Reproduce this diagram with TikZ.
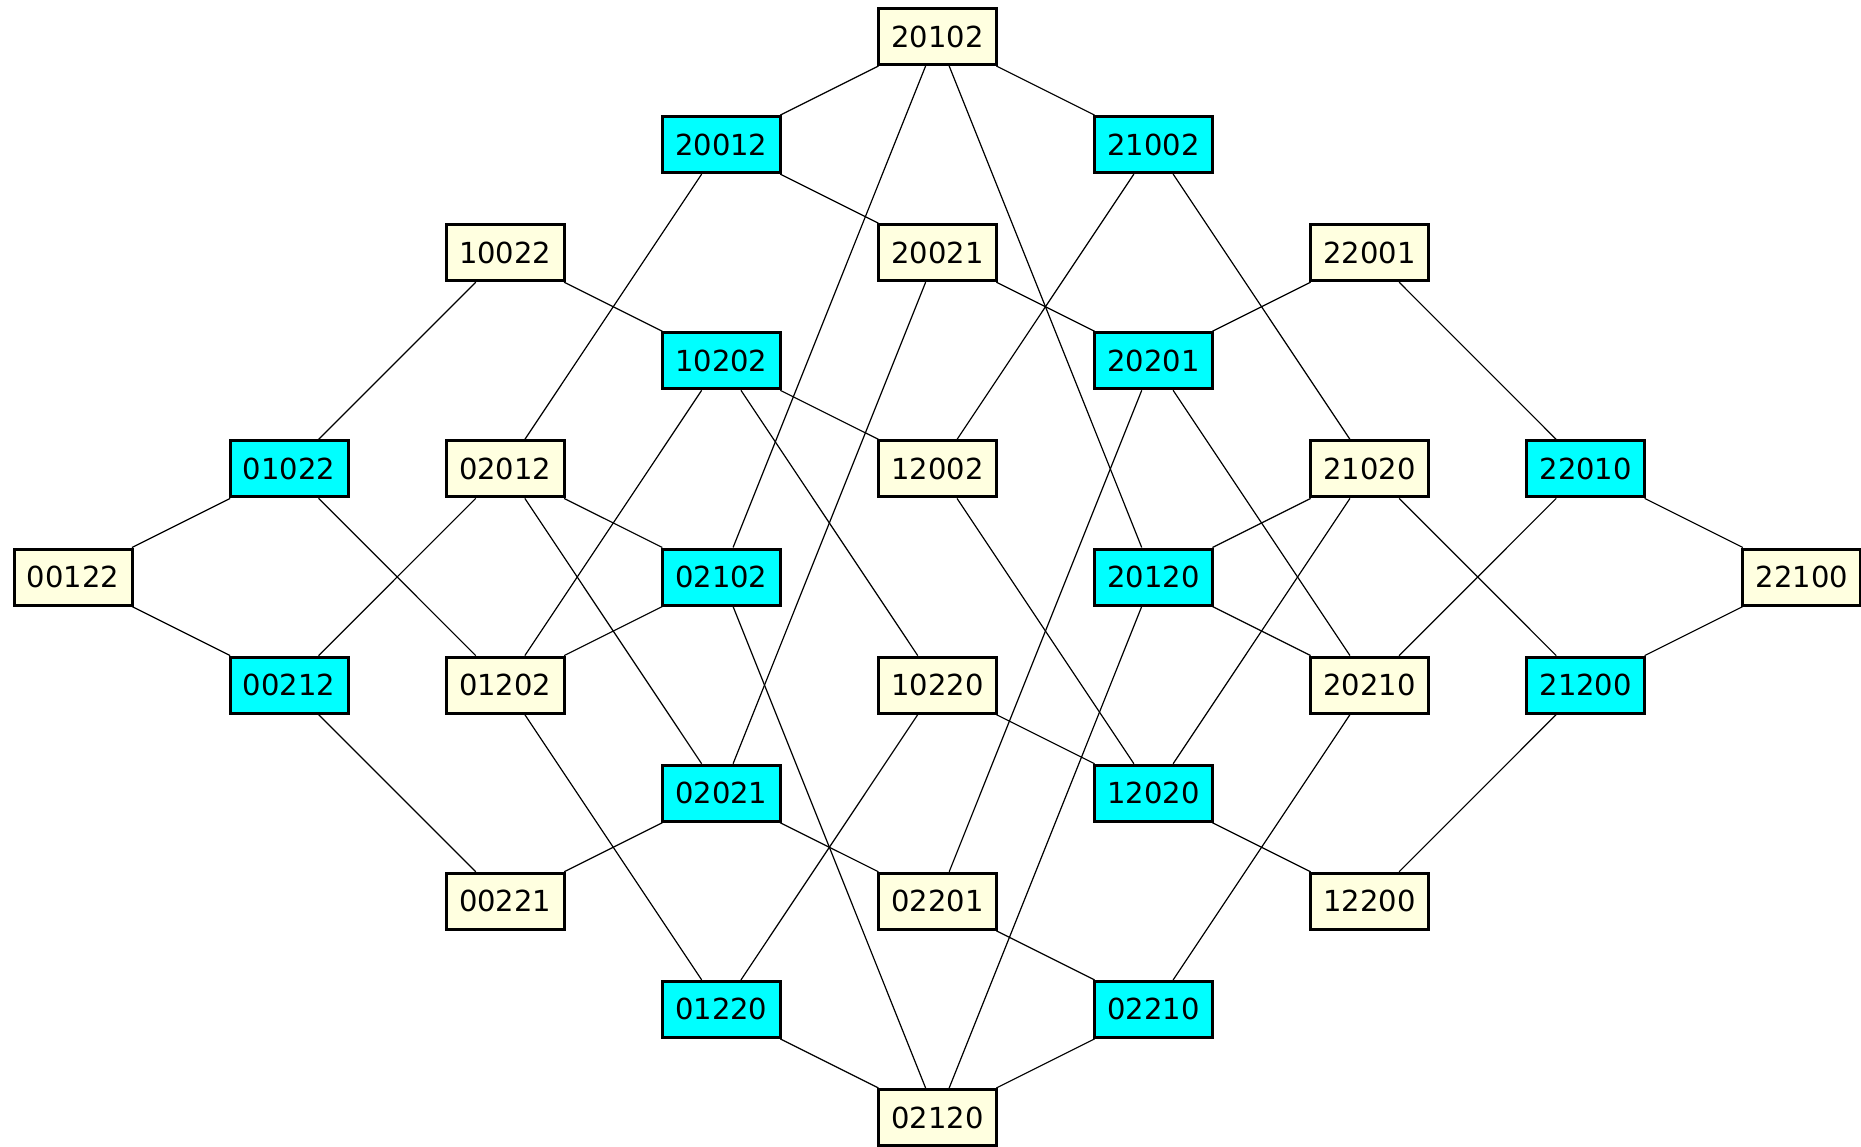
\documentclass[tikz,border=0pt]{standalone}
\usepackage{fontspec}
\setmainfont{DejaVu Sans}
\definecolor{paleyellow}{HTML}{FFFFE0}
\definecolor{aqua}{HTML}{00FFFF}
\begin{document}
\begin{tikzpicture}[x=1pt,y=1pt,
  statebox/.style={draw=black, line width=3pt, minimum width=118pt, minimum height=56pt,
    inner sep=0pt, font=\fontsize{29}{31}\selectfont},
  ybox/.style={statebox, fill=paleyellow},
  cbox/.style={statebox, fill=aqua},
  link/.style={draw=black, line width=1.2pt}]
\useasboundingbox (0,0) rectangle (1861,-1147);
% grid: column c at x = 73 + 216.1 c, row r at y = -(36.5 + 108.1 r)
\foreach \lab/\c/\r/\s in {
  20102/4/0/ybox, 20012/3/1/cbox, 21002/5/1/cbox,
  10022/2/2/ybox, 20021/4/2/ybox, 22001/6/2/ybox,
  10202/3/3/cbox, 20201/5/3/cbox,
  01022/1/4/cbox, 02012/2/4/ybox, 12002/4/4/ybox, 21020/6/4/ybox, 22010/7/4/cbox,
  00122/0/5/ybox, 02102/3/5/cbox, 20120/5/5/cbox, 22100/8/5/ybox,
  00212/1/6/cbox, 01202/2/6/ybox, 10220/4/6/ybox, 20210/6/6/ybox, 21200/7/6/cbox,
  02021/3/7/cbox, 12020/5/7/cbox,
  00221/2/8/ybox, 02201/4/8/ybox, 12200/6/8/ybox,
  01220/3/9/cbox, 02210/5/9/cbox,
  02120/4/10/ybox}
  \node[\s] (n\lab) at ({73+216.1*\c},{-(36.5+108.1*\r)}) {\lab};
\foreach \a/\b in {
  20102/20012, 20102/21002, 20102/02102, 20102/20120,
  20012/20021, 20012/02012,
  21002/12002, 21002/21020,
  10022/10202, 10022/01022,
  20021/20201, 20021/02021,
  22001/20201, 22001/22010,
  10202/12002, 10202/01202, 10202/10220,
  20201/02201, 20201/20210,
  01022/00122, 01022/01202,
  02012/00212, 02012/02102, 02012/02021,
  12002/12020,
  21020/20120, 21020/12020, 21020/21200,
  22010/22100, 22010/20210,
  00122/00212,
  02102/01202, 02102/02120,
  20120/20210, 20120/02120,
  22100/21200,
  00212/00221,
  01202/01220,
  10220/12020, 10220/01220,
  20210/02210,
  21200/12200,
  02021/00221, 02021/02201,
  12020/12200,
  02201/02210,
  01220/02120,
  02210/02120}
  \draw[link] (n\a) -- (n\b);
\end{tikzpicture}
\end{document}
